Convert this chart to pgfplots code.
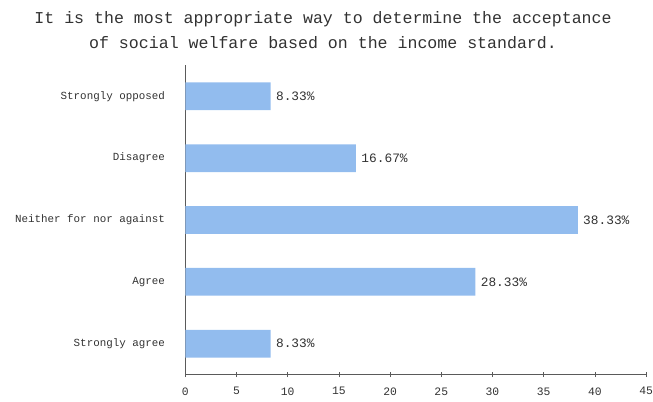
\documentclass[border=0pt]{standalone}
\usepackage{pgfplots}
\pgfplotsset{compat=1.18}
\usepackage{fontspec}
\setmainfont{Liberation Mono}
\definecolor{barblue}{RGB}{146,188,238}
\definecolor{txt}{RGB}{50,50,50}
\definecolor{axgray}{RGB}{90,90,90}
\begin{document}
\begin{tikzpicture}
\path[use as bounding box] (-187bp,-27bp) rectangle (472bp,378bp);
\begin{axis}[
  at={(0,0)}, anchor=south west,
  scale only axis, width=465bp, height=312bp,
  xbar, bar width=28bp,
  xmin=0, xmax=45, ymin=-0.5, ymax=4.5,
  xtick={0,5,...,45},
  ytick={0,1,2,3,4},
  yticklabels={Strongly agree,Agree,Neither for nor against,Disagree,Strongly opposed},
  axis x line*=bottom, axis y line*=left,
  axis line style={axgray, line width=0.8pt, -},
  xtick align=center, major tick length=5bp,
  xtick style={axgray, line width=0.6pt},
  ytick style={draw=none},
  /pgf/number format/assume math mode=true,
  xticklabel style={font=\fontsize{11.5}{13}\selectfont, text=txt, yshift=-7bp},
  yticklabel style={font=\fontsize{11}{13}\selectfont, text=txt, xshift=-12bp},
  nodes near coords={\pgfmathprintnumber[fixed,fixed zerofill,precision=2]{\pgfplotspointmeta}\%},
  every node near coord/.append style={font=\fontsize{13}{15}\selectfont, text=txt, xshift=2bp},
  clip=false,
]
\addplot[fill=barblue, draw=none] coordinates {
  (8.33,0) (28.33,1) (38.33,2) (16.67,3) (8.33,4)
};
\end{axis}
\node[align=center, text=txt, font=\fontsize{16.8}{25}\selectfont] at (139bp,347.5bp)
  {It is the most appropriate way to determine the acceptance\\of social welfare based on the income standard.};
\end{tikzpicture}
\end{document}
